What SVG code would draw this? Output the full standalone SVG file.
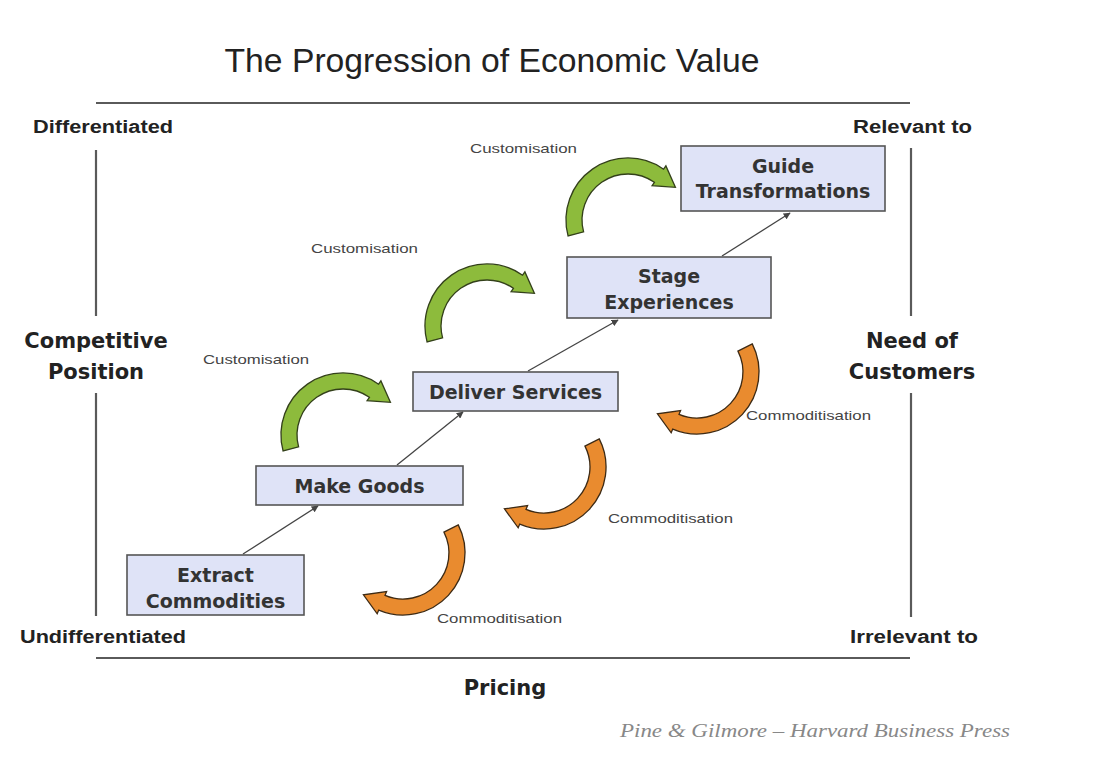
<svg xmlns="http://www.w3.org/2000/svg" width="1120" height="778" viewBox="0 0 1120 778">
<defs>
<style>
.axis{stroke:#5a5a5a;stroke-width:2.2;fill:none}
.box{fill:#dfe3f7;stroke:#555;stroke-width:1.6}
.nt{font-family:"DejaVu Sans",Verdana,sans-serif;font-weight:bold;font-size:19px;fill:#333;text-anchor:middle}
.ax{font-family:"DejaVu Sans",Verdana,sans-serif;font-weight:bold;font-size:21px;fill:#222;text-anchor:middle}
.corner{font-family:"Liberation Sans",Arial,sans-serif;font-weight:bold;font-size:18px;fill:#222}
.small{font-family:"Liberation Sans",Arial,sans-serif;font-size:13px;fill:#444}
.conn{stroke:#444;stroke-width:1.3;fill:none;marker-end:url(#ah)}
.green{fill:#8dbb3c;stroke:#33401a;stroke-width:1.3}
.orange{fill:#e98b2f;stroke:#3d2a14;stroke-width:1.3}
</style>
<marker id="ah" viewBox="0 0 10 10" refX="9" refY="5" markerWidth="7" markerHeight="7" orient="auto" markerUnits="userSpaceOnUse">
<path d="M0,0 L10,5 L0,10 z" fill="#444"/>
</marker>
<path id="curv" d="M -59.9,16.0 A 62 62 0 0 1 35.6,-50.8 L 37.9,-54.1 L 47.4,-32.7 L 24.1,-34.4 L 26.4,-37.7 A 46 46 0 0 0 -44.4,11.9 Z"/>
</defs>
<rect width="1120" height="778" fill="#ffffff"/>

<text x="492" y="72" font-family="Liberation Sans, Arial, sans-serif" font-size="33" fill="#222" text-anchor="middle" textLength="535" lengthAdjust="spacingAndGlyphs">The Progression of Economic Value</text>

<g id="axes">
<line class="axis" x1="96" y1="103" x2="910" y2="103"/>
<line class="axis" x1="96" y1="658" x2="910" y2="658"/>
<line class="axis" x1="96" y1="150" x2="96" y2="316"/>
<line class="axis" x1="96" y1="393" x2="96" y2="616"/>
<line class="axis" x1="911" y1="148" x2="911" y2="316"/>
<line class="axis" x1="911" y1="393" x2="911" y2="617"/>
</g>

<g id="axis-labels">
<text class="corner" x="33" y="133" textLength="140" lengthAdjust="spacingAndGlyphs">Differentiated</text>
<text class="corner" x="853" y="133" textLength="119" lengthAdjust="spacingAndGlyphs">Relevant to</text>
<text class="corner" x="20" y="643" textLength="166" lengthAdjust="spacingAndGlyphs">Undifferentiated</text>
<text class="corner" x="850" y="643" textLength="128" lengthAdjust="spacingAndGlyphs">Irrelevant to</text>
<text class="ax" x="96" y="348">Competitive</text>
<text class="ax" x="96" y="379">Position</text>
<text class="ax" x="912" y="348">Need of</text>
<text class="ax" x="912" y="379">Customers</text>
<text class="ax" x="505" y="695">Pricing</text>
</g>

<g id="connectors">
<line class="conn" x1="243" y1="554" x2="318" y2="506"/>
<line class="conn" x1="397" y1="465" x2="463" y2="412"/>
<line class="conn" x1="528" y1="371" x2="618" y2="320"/>
<line class="conn" x1="722" y1="256" x2="790" y2="213"/>
</g>

<g id="customisation-arrows">
<use href="#curv" class="green" transform="translate(343,435)"/>
<use href="#curv" class="green" transform="translate(487,326)"/>
<use href="#curv" class="green" transform="translate(628,220)"/>
<text class="small" x="470" y="153" textLength="107" lengthAdjust="spacingAndGlyphs">Customisation</text>
<text class="small" x="311" y="253" textLength="107" lengthAdjust="spacingAndGlyphs">Customisation</text>
<text class="small" x="203" y="364" textLength="106" lengthAdjust="spacingAndGlyphs">Customisation</text>
</g>

<g id="commoditisation-arrows">
<use href="#curv" class="orange" transform="translate(403,553) rotate(168)"/>
<use href="#curv" class="orange" transform="translate(544,467) rotate(168)"/>
<use href="#curv" class="orange" transform="translate(697,372) rotate(168)"/>
<text class="small" x="746" y="420" textLength="125" lengthAdjust="spacingAndGlyphs">Commoditisation</text>
<text class="small" x="608" y="523" textLength="125" lengthAdjust="spacingAndGlyphs">Commoditisation</text>
<text class="small" x="437" y="623" textLength="125" lengthAdjust="spacingAndGlyphs">Commoditisation</text>
</g>

<g id="extract-commodities">
<rect class="box" x="127" y="555" width="177" height="60"/>
<text class="nt" x="215.5" y="582">Extract</text>
<text class="nt" x="215.5" y="608">Commodities</text>
</g>
<g id="make-goods">
<rect class="box" x="256" y="466" width="207" height="39"/>
<text class="nt" x="359.5" y="493">Make Goods</text>
</g>
<g id="deliver-services">
<rect class="box" x="413" y="372" width="205" height="39"/>
<text class="nt" x="515.5" y="399">Deliver Services</text>
</g>
<g id="stage-experiences">
<rect class="box" x="567" y="257" width="204" height="61"/>
<text class="nt" x="669" y="283">Stage</text>
<text class="nt" x="669" y="309">Experiences</text>
</g>
<g id="guide-transformations">
<rect class="box" x="681" y="146" width="204" height="65"/>
<text class="nt" x="783" y="173">Guide</text>
<text class="nt" x="783" y="198">Transformations</text>
</g>

<text x="620" y="737" font-family="Liberation Serif, Georgia, serif" font-style="italic" font-size="19" fill="#888" textLength="390" lengthAdjust="spacingAndGlyphs">Pine &amp; Gilmore – Harvard Business Press</text>
</svg>
